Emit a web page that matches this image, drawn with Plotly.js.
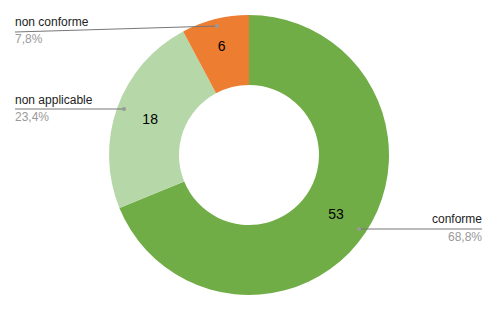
<!DOCTYPE html>
<html><head><meta charset="utf-8">
<script src="https://cdn.plot.ly/plotly-3.0.1.min.js"></script>
<style>html,body{margin:0;padding:0;background:#fff}#c{width:498px;height:310px}</style>
</head><body><div id="c"></div>
<script>
const categories = ['conforme', 'non applicable', 'non conforme'];
const values = [53, 18, 6];
const percentLabels = ['68,8%', '23,4%', '7,8%'];
const colors = ['#70AD47', '#B6D7A8', '#ED7D31'];

const W = 498, H = 310;
const px = x => x / W, py = y => 1 - y / H;

const trace = {
  type: 'pie', labels: categories, values: values, hole: 0.5, sort: false,
  direction: 'clockwise', rotation: 0,
  marker: {colors: colors, line: {width: 0}},
  textinfo: 'value', textposition: 'inside', insidetextorientation: 'horizontal',
  textfont: {family: 'Liberation Sans, Arial', size: 14, color: '#000'},
  hoverinfo: 'none',
  domain: {x: [px(249 - 140), px(249 + 140)], y: [py(295), py(15)]}
};

const labelCfg = [
  {i: 0, x: 484, anchor: 'right', ny: 219, py: 237, line: [[359, 229], [482, 229]]},
  {i: 1, x: 13, anchor: 'left', ny: 100, py: 117, line: [[15, 109], [124, 109]]},
  {i: 2, x: 13, anchor: 'left', ny: 22, py: 39, line: [[15, 32], [217, 26]]}
];
const annotations = [], shapes = [];
labelCfg.forEach(c => {
  annotations.push({xref: 'paper', yref: 'paper', x: px(c.x), y: py(c.ny), xanchor: c.anchor, yanchor: 'middle',
    text: categories[c.i], showarrow: false, font: {family: 'Liberation Sans, Arial', size: 12, color: '#222'}});
  annotations.push({xref: 'paper', yref: 'paper', x: px(c.x), y: py(c.py), xanchor: c.anchor, yanchor: 'middle',
    text: percentLabels[c.i], showarrow: false, font: {family: 'Liberation Sans, Arial', size: 12, color: '#999'}});
  shapes.push({type: 'line', xref: 'paper', yref: 'paper', x0: px(c.line[0][0]), y0: py(c.line[0][1]),
    x1: px(c.line[1][0]), y1: py(c.line[1][1]), line: {color: '#777', width: 1}});
  const d = c.anchor === 'right' ? c.line[0] : c.line[1];
  shapes.push({type: 'circle', xref: 'paper', yref: 'paper', x0: px(d[0] - 2), x1: px(d[0] + 2),
    y0: py(d[1] + 2), y1: py(d[1] - 2), fillcolor: '#999', line: {width: 0}});
});

Plotly.newPlot('c', [trace], {
  width: W, height: H, margin: {l: 0, r: 0, t: 0, b: 0}, showlegend: false,
  paper_bgcolor: '#fff', annotations: annotations, shapes: shapes
}, {staticPlot: true});
</script></body></html>
